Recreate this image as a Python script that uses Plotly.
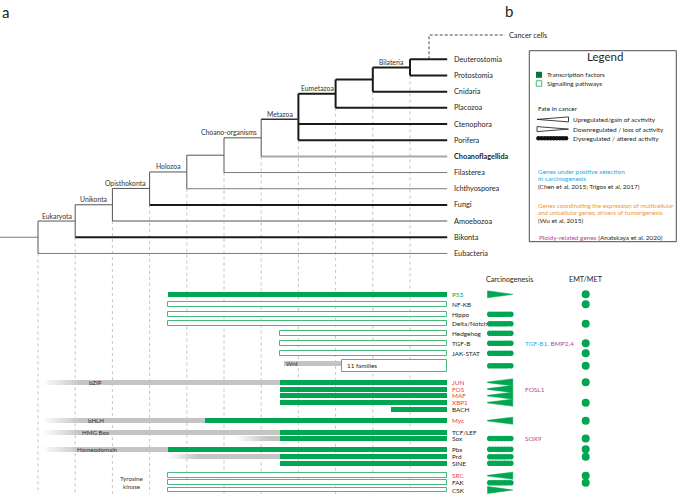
import plotly.graph_objects as go
import numpy as np

# ---------------- data ----------------
taxa = ["Deuterostomia", "Protostomia", "Cnidaria", "Placozoa", "Ctenophora", "Porifera",
        "Choanoflagellida", "Filasterea", "Ichthyosporea", "Fungi", "Amoebozoa", "Bikonta", "Eubacteria"]
attach_depth = [10, 10, 9, 8, 7, 7, 6, 5, 4, 3, 2, 1, 0]
leaf_style = ["thick", "thick", "thick", "thick", "thick", "thick", "grey", "thin", "thin",
              "thick", "grey", "thick", "thin"]
clade_names = {1: "Eukaryota", 2: "Unikonta", 3: "Opisthokonta", 4: "Holozoa",
               6: "Choano-organisms", 7: "Metazoa", 8: "Eumetazoa", 10: "Bilateria"}
LEAF_END = 11.0

genes = ["P53", "NF-KB", "Hippo", "Delta/Notch", "Hedgehog", "TGF-B", "JAK-STAT", "Wnt",
         "JUN", "FOS", "MAF", "XBP1", "BACH", "Myc", "TCF/LEF", "Sox", "Pbx", "Prd", "SINE",
         "SRC", "FAK", "CSK"]
gene_y = [294.3, 304.3, 314.3, 323.7, 333.3, 343.3, 353.3, 365.8, 382.3, 389.0, 395.7, 402.7,
          409.3, 420.7, 432.3, 438.5, 449.3, 456.7, 463.3, 475.7, 482.7, 490.0]
gene_kind = ["tf", "sp", "sp", "sp", "sp", "sp", "sp", "box", "tf", "tf", "tf", "tf", "tf", "tf",
             "tf", "tf", "tf", "tf", "tf", "sp", "sp", "sp"]
gene_start = [3.5, 3.5, 3.5, 3.5, 6.5, 6.5, 6.5, 8.17, 6.5, 6.5, 6.5, 6.5, 9.5, 4.5, 6.5, 6.5,
              3.5, 6.5, 6.5, 3.5, 3.5, 3.5]
gene_label_col = ["p53", "k", "k", "k", "k", "k", "k", "k", "r", "r", "r", "r", "k", "r", "k", "k",
                  "k", "k", "k", "r", "k", "k"]
carcino = ["down", "", "dys", "dys", "dys", "dys", "dys", "dys", "up", "up", "up", "up", "", "up",
           "", "dys", "dys", "dys", "dys", "up", "dys", "down"]
emt = [1, 1, 0, 1, 0, 1, 1, 1, 1, 0, 0, 1, 0, 1, 0, 1, 1, 1, 0, 1, 1, 0]

# ancestral (grey) domains
gray_label = ["bZIP", "bHLH", "HMG Box", "Homeodomain", "", "", "Wnt"]
gray_y = [382.3, 420.7, 432.3, 449.3, 438.5, 456.7, 363.8]
gray_fade0 = [0.10, 0.10, 0.10, 0.10, 5.34, 3.50, 6.60]
gray_solid0 = [1.15, 1.15, 1.15, 1.15, 6.15, 4.30, 6.60]
gray_end = [6.5, 4.5, 6.5, 3.5, 6.5, 6.5, 8.17]
gray_label_x = [1.55, 1.55, 1.55, 1.6, 0, 0, 6.84]

# ---------------- style ----------------
W, H = 677, 494
X0, DX = 38.0, 37.2
FONT = "Lato"
GREEN = "#00a651"
OUTLINE = "#46b97c"
RED = "#ef4136"
CYAN = "#27aae1"
MAGENTA = "#bf3f8d"
ORANGE = "#f7941d"
GREYBAR = (196, 196, 196)
TXT = "#231f20"


def kx(px):
    return (px - X0) / DX


fig = go.Figure()


def txt(x, y, s, size=7.5, color=TXT, anchor="left"):
    fig.add_annotation(x=x, y=y, xref="x", yref="y", text=s, showarrow=False,
                       xanchor=anchor, yanchor="middle", borderpad=0,
                       font=dict(family=FONT, size=size, color=color))


# ---------------- tree ----------------
n = len(taxa)
leaf_y = [59.3 + 16.18 * i for i in range(n)]
node_y, node_span = {}, {}
for d in range(10, -1, -1):
    ys = [leaf_y[i] for i in range(n) if attach_depth[i] == d]
    if d < 10:
        ys = [node_y[d + 1]] + ys
    node_y[d] = float(np.mean(ys))
    node_span[d] = (min(ys), max(ys))

segs = {"thick": [], "grey": [], "thin": [], "dark": [], "mid": []}


def seg(style, x0, y0, x1, y1):
    segs[style].append((x0, y0, x1, y1))


for i in range(n):
    seg(leaf_style[i], attach_depth[i], leaf_y[i], LEAF_END, leaf_y[i])
for d in range(11):
    seg("thick" if d >= 7 else "dark", d, node_span[d][0], d, node_span[d][1])
    if d >= 1:
        st = "thick" if d >= 8 else ("mid" if d == 7 else "dark")
        seg(st, d - 1, node_y[d], d, node_y[d])
seg("thin", kx(0), node_y[0], 0, node_y[0])

# dashed guide lines from each node downwards (behind everything)
for d in range(11):
    fig.add_shape(type="line", xref="x", yref="y", x0=d, x1=d, y0=node_span[d][1], y1=H,
                  line=dict(color="#b5b5b5", width=0.8, dash="3px,3px"), layer="below")

styles = {"thick": ("#1a1a1a", 2.0), "grey": ("#a8a8a8", 2.0), "thin": ("#7a7a7a", 1.0),
          "dark": ("#555555", 1.0), "mid": ("#333333", 1.4)}
for st, lst in segs.items():
    xs, ys = [], []
    for (a, b, c, e) in lst:
        xs += [a, c, None]
        ys += [b, e, None]
    col, w = styles[st]
    fig.add_trace(go.Scatter(x=xs, y=ys, mode="lines", line=dict(color=col, width=w),
                             hoverinfo="skip"))

# cancer cells
cx = kx(429)
fig.add_trace(go.Scatter(x=[cx, cx, kx(505)], y=[leaf_y[0], 35, 35], mode="lines",
                         line=dict(color="#333", width=0.9, dash="3px,2px"), hoverinfo="skip"))
txt(kx(508), 35, "Cancer cells", 7.3)

for i, t in enumerate(taxa):
    s = "<b>" + t + "</b>" if t == "Choanoflagellida" else t
    txt(kx(453), leaf_y[i], s, 7.3)

for d, name in clade_names.items():
    if name in ("Choano-organisms", "Opisthokonta"):
        txt(d - 0.08, node_y[d] - 5.5, name, 6.8, "#333", "right")
    else:
        txt(d - 0.5, node_y[d] - 5.5, name, 6.8, "#333", "center")

# ---------------- grey ancestral domains ----------------
gb_base, gb_len, gb_y, gb_col = [], [], [], []
NF = 14
for j in range(len(gray_y)):
    f0, s0 = gray_fade0[j], gray_solid0[j]
    if s0 > f0:
        edges = np.linspace(f0, s0, NF + 1)
        for q in range(NF):
            a = (q + 0.5) / NF
            c = tuple(int(round(255 + (g - 255) * a)) for g in GREYBAR)
            gb_base.append(edges[q]); gb_len.append(edges[q + 1] - edges[q] + 0.01)
            gb_y.append(gray_y[j]); gb_col.append("rgb(%d,%d,%d)" % c)
    gb_base.append(s0); gb_len.append(gray_end[j] - s0)
    gb_y.append(gray_y[j]); gb_col.append("rgb(%d,%d,%d)" % GREYBAR)
fig.add_trace(go.Bar(orientation="h", base=gb_base, x=gb_len, y=gb_y, width=5,
                     marker=dict(color=gb_col, line=dict(width=0)), hoverinfo="skip"))
for j, lab in enumerate(gray_label):
    if lab:
        txt(gray_label_x[j], gray_y[j], lab, 6.2, "#333", "center")

# ---------------- gene bars ----------------
tf_idx = [i for i in range(len(genes)) if gene_kind[i] == "tf"]
sp_idx = [i for i in range(len(genes)) if gene_kind[i] == "sp"]
bx_idx = [i for i in range(len(genes)) if gene_kind[i] == "box"]
fig.add_trace(go.Bar(orientation="h", base=[gene_start[i] for i in tf_idx],
                     x=[LEAF_END - gene_start[i] for i in tf_idx], y=[gene_y[i] for i in tf_idx],
                     width=5, marker=dict(color=GREEN, line=dict(width=0)), hoverinfo="skip"))
fig.add_trace(go.Bar(orientation="h", base=[gene_start[i] for i in sp_idx],
                     x=[LEAF_END - gene_start[i] for i in sp_idx], y=[gene_y[i] for i in sp_idx],
                     width=4.6, marker=dict(color="white", line=dict(width=1, color=OUTLINE)),
                     hoverinfo="skip"))
fig.add_trace(go.Bar(orientation="h", base=[gene_start[i] for i in bx_idx],
                     x=[LEAF_END - gene_start[i] for i in bx_idx], y=[gene_y[i] for i in bx_idx],
                     width=11.5, marker=dict(color="white", line=dict(width=1, color=OUTLINE)),
                     hoverinfo="skip"))
for i in bx_idx:
    txt(gene_start[i] + 0.12, gene_y[i], "11 families", 6.3)

colmap = {"k": TXT, "r": RED, "p53": GREEN}
for i, g in enumerate(genes):
    if gene_kind[i] == "box":
        continue
    txt(kx(451), gene_y[i], g, 6.4, colmap[gene_label_col[i]])

txt(kx(485), 279.3, "Carcinogenesis", 7.2)
txt(kx(586), 279.3, "EMT/MET", 7.2, TXT, "center")
txt(kx(132), 478.3, "Tyrosine", 6.2, "#333", "center")
txt(kx(132), 486.7, "kinase", 6.2, "#333", "center")

# carcinogenesis symbols
CX0, CX1 = kx(487.5), kx(512.8)
bx, by = [], []
for i, c in enumerate(carcino):
    y = gene_y[i]
    if c in ("up", "down"):
        h = 3.5
        if c == "up":
            px = [CX0, CX1, CX1, CX0, CX0]
            py = [y - 0.4, y - h, y + h, y + 0.4, y - 0.4]
        else:
            px = [CX0, CX1, CX0, CX0]
            py = [y - h, y, y + h, y - h]
        fig.add_trace(go.Scatter(x=px, y=py, mode="lines", fill="toself", fillcolor=GREEN,
                                 line=dict(width=0.5, color=GREEN), hoverinfo="skip"))
    elif c == "dys":
        for xx in np.linspace(kx(489.8), kx(510.8), 8):
            bx.append(xx); by.append(y)
fig.add_trace(go.Scatter(x=bx, y=by, mode="markers",
                         marker=dict(symbol="circle", size=5.6, color=GREEN, line=dict(width=0)),
                         hoverinfo="skip"))

# EMT/MET dots
fig.add_trace(go.Scatter(x=[kx(585.7)] * sum(emt), y=[gene_y[i] for i in range(len(genes)) if emt[i]],
                         mode="markers", marker=dict(size=8, color=GREEN, line=dict(width=0)),
                         hoverinfo="skip"))

txt(kx(524), gene_y[5], "<span style='color:%s'>TGF-B1,</span> <span style='color:%s'>BMP2,4</span>"
    % (CYAN, MAGENTA), 6.5)
txt(kx(524), gene_y[9], "FOSL1", 6.5, MAGENTA)
txt(kx(524), gene_y[15], "SOX9", 6.5, MAGENTA)

# ---------------- legend panel ----------------
fig.add_shape(type="rect", xref="x", yref="y", x0=kx(529.3), x1=kx(676.3), y0=50.7, y1=241.7,
              line=dict(color="#4d4d4d", width=1), fillcolor="white", layer="below")
txt(kx(605), 56.5, "Legend", 11.5, TXT, "center")
fig.add_trace(go.Scatter(x=[kx(539)], y=[74.8], mode="markers",
                         marker=dict(symbol="square", size=6, color="#08733a"), hoverinfo="skip"))
fig.add_trace(go.Scatter(x=[kx(539)], y=[83.5], mode="markers",
                         marker=dict(symbol="square", size=5.5, color="white",
                                     line=dict(color=OUTLINE, width=1)), hoverinfo="skip"))
LS = 6.45
LS2 = 6.2
txt(kx(545.5), 74.8, "Transcription factors", LS)
txt(kx(545.5), 83.5, "Signalling pathways", LS)
txt(kx(536.5), 108.3, "Fate in cancer", LS)
LX0, LX1 = kx(537), kx(568.5)
fig.add_trace(go.Scatter(x=[LX0, LX1, LX1, LX0], y=[119.4, 116.9, 121.9, 119.4], mode="lines",
                         fill="toself", fillcolor="white", line=dict(color="#111", width=0.8),
                         hoverinfo="skip"))
fig.add_trace(go.Scatter(x=[LX0, LX1, LX0, LX0], y=[126.6, 129.1, 131.6, 126.6], mode="lines",
                         fill="toself", fillcolor="white", line=dict(color="#111", width=0.8),
                         hoverinfo="skip"))
fig.add_trace(go.Scatter(x=list(np.linspace(kx(538.5), kx(566), 10)), y=[138.3] * 10,
                         mode="markers", marker=dict(size=4.6, color="#111", line=dict(width=0)),
                         hoverinfo="skip"))
txt(kx(571.5), 119.3, "Upregulated/gain of acvtivity", LS)
txt(kx(571.5), 129.0, "Downregulated / loss of activity", LS)
txt(kx(571.5), 138.3, "Dysregulated / altered activity", LS)
txt(kx(536.5), 171.2, "Genes under positive selection", LS, CYAN)
txt(kx(536.5), 178.8, "in carcinogenesis", LS, CYAN)
txt(kx(536.5), 186.6, "(Chen et al, 2015; Trigos et al, 2017)", LS)
txt(kx(536.5), 205.0, "Genes coordinating the expression of multicellular", LS2, ORANGE)
txt(kx(536.5), 212.8, "and unicellular genes, drivers of tumorigenesis", LS2, ORANGE)
txt(kx(536.5), 220.7, "(Wu et al, 2015)", LS)
txt(kx(537.5), 237.4, "<span style='color:%s'>Ploidy-related genes</span> (Anatskaya et al. 2020)"
    % MAGENTA, LS)

# panel letters
txt(kx(1), 11.5, "a", 15)
txt(kx(508.5), 11, "b", 15, TXT, "center")

fig.update_layout(width=W, height=H, margin=dict(l=0, r=0, t=0, b=0),
                  paper_bgcolor="white", plot_bgcolor="white", showlegend=False,
                  barmode="overlay", bargap=0,
                  xaxis=dict(range=[kx(0), kx(W)], visible=False, fixedrange=True),
                  yaxis=dict(range=[H, 0], visible=False, fixedrange=True))
fig.write_html("out.html", config={"displayModeBar": False},
               post_script="document.body.style.margin='0';document.body.style.overflow='hidden';")
